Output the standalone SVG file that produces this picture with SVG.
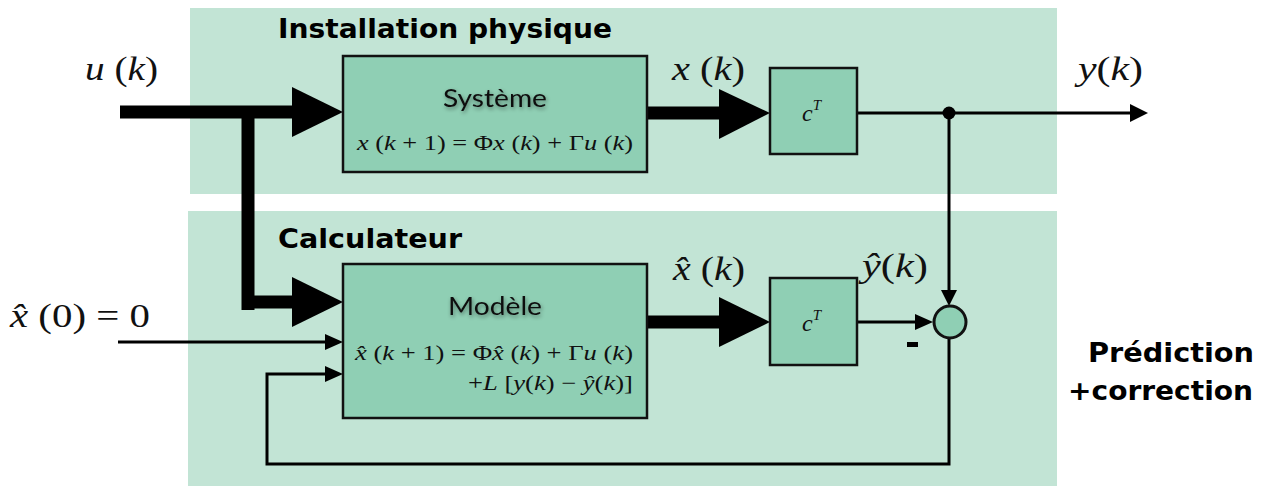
<svg xmlns="http://www.w3.org/2000/svg" width="1268" height="486" viewBox="0 0 1268 486">
  <style>
    .panel { fill: #c2e4d5; }
    .block { fill: #8fcfb4; stroke: #111; stroke-width: 2.5; }
    .thick { stroke: #000; stroke-width: 13; fill: none; }
    .thin { stroke: #000; stroke-width: 3; fill: none; }
    .head { fill: #000; }
    .title { font-family: "DejaVu Sans", "Open Sans", sans-serif; font-weight: bold; font-size: 26px; fill: #000; }
    .name { font-family: Lato, "Open Sans", sans-serif; font-size: 25px; fill: #111; }
    .math { font-family: "Liberation Serif", "DejaVu Serif", serif; fill: #111; }
    .it { font-style: italic; }
  </style>
  <defs>
    <filter id="soft" x="-20%" y="-40%" width="140%" height="180%">
      <feGaussianBlur in="SourceAlpha" stdDeviation="2"/>
      <feOffset dx="1" dy="2" result="b"/>
      <feComponentTransfer><feFuncA type="linear" slope="0.45"/></feComponentTransfer>
      <feMerge><feMergeNode/><feMergeNode in="SourceGraphic"/></feMerge>
    </filter>
  </defs>

  <!-- background areas -->
  <g id="plant-area">
    <rect class="panel" x="190" y="8" width="867" height="186"/>
    <text class="title" x="278" y="38" textLength="334" lengthAdjust="spacingAndGlyphs">Installation physique</text>
  </g>
  <g id="computer-area">
    <rect class="panel" x="188" y="211" width="869" height="275"/>
    <text class="title" x="278" y="248" textLength="184" lengthAdjust="spacingAndGlyphs">Calculateur</text>
  </g>

  <!-- connectors -->
  <g id="connectors">
    <!-- u(k) input and branch to the model -->
    <path class="thick" d="M120 112 H295"/>
    <path class="thick" d="M248 112 V310"/>
    <path class="thick" d="M242 302 H295"/>
    <polygon class="head" points="292,87 343,112 292,137"/>
    <polygon class="head" points="292,277 343,302 292,327"/>
    <!-- state x(k) -->
    <path class="thick" d="M647 113 H722"/>
    <polygon class="head" points="719,89 770,113 719,139"/>
    <!-- estimated state -->
    <path class="thick" d="M647 322 H722"/>
    <polygon class="head" points="719,297 770,322 719,347"/>
    <!-- output y(k) -->
    <path class="thin" d="M857 113 H1132"/>
    <polygon class="head" points="1130,104 1148,113 1130,122"/>
    <circle cx="949" cy="113" r="6.5" fill="#000"/>
    <path class="thin" d="M949 113 V292"/>
    <polygon class="head" points="941,290 949,306 957,290"/>
    <!-- predicted output to summing junction -->
    <path class="thin" d="M857 322 H917"/>
    <polygon class="head" points="915,314 933,322 915,330"/>
    <!-- initial condition -->
    <path class="thin" d="M118 342 H327"/>
    <polygon class="head" points="325,334 343,342 325,350"/>
    <!-- correction feedback -->
    <path class="thin" d="M949 338 V464 H267 V374 H327"/>
    <polygon class="head" points="325,366 343,374 325,382"/>
  </g>

  <!-- plant -->
  <g id="systeme">
    <rect class="block" x="343" y="56" width="304" height="116"/>
    <text class="name" x="443" y="107" textLength="104" lengthAdjust="spacingAndGlyphs" filter="url(#soft)">Système</text>
    <text class="math" x="357" y="150" font-size="21" textLength="276" lengthAdjust="spacingAndGlyphs"><tspan class="it">x</tspan> (<tspan class="it">k</tspan> + 1) = Φ<tspan class="it">x</tspan> (<tspan class="it">k</tspan>) + Γ<tspan class="it">u</tspan> (<tspan class="it">k</tspan>)</text>
  </g>

  <g id="c-plant">
    <rect class="block" x="770" y="68" width="87" height="86"/>
    <text class="math it" x="802" y="121" font-size="24">c<tspan font-size="15" dy="-11">T</tspan></text>
  </g>

  <!-- model -->
  <g id="modele">
    <rect class="block" x="343" y="264" width="304" height="154"/>
    <text class="name" x="448" y="315" textLength="94" lengthAdjust="spacingAndGlyphs" filter="url(#soft)">Modèle</text>
    <text class="math" x="355" y="360" font-size="21" textLength="278" lengthAdjust="spacingAndGlyphs"><tspan class="it">x̂</tspan> (<tspan class="it">k</tspan> + 1) = Φ<tspan class="it">x̂</tspan> (<tspan class="it">k</tspan>) + Γ<tspan class="it">u</tspan> (<tspan class="it">k</tspan>)</text>
    <text class="math" x="468" y="390" font-size="21" textLength="165" lengthAdjust="spacingAndGlyphs">+<tspan class="it">L</tspan> [<tspan class="it">y</tspan>(<tspan class="it">k</tspan>) − <tspan class="it">ŷ</tspan>(<tspan class="it">k</tspan>)]</text>
  </g>

  <g id="c-model">
    <rect class="block" x="770" y="278" width="87" height="87"/>
    <text class="math it" x="802" y="331" font-size="24">c<tspan font-size="15" dy="-11">T</tspan></text>
  </g>

  <g id="sum">
    <circle cx="950" cy="322" r="16" fill="#8fcfb4" stroke="#111" stroke-width="3"/>
    <rect x="907" y="342" width="11" height="5" fill="#000"/>
  </g>

  <!-- signal labels -->
  <g id="labels">
    <text class="math" x="85" y="80" font-size="34" textLength="73" lengthAdjust="spacingAndGlyphs"><tspan class="it">u</tspan> (<tspan class="it">k</tspan>)</text>
    <text class="math" x="672" y="80" font-size="34" textLength="73" lengthAdjust="spacingAndGlyphs"><tspan class="it">x</tspan> (<tspan class="it">k</tspan>)</text>
    <text class="math" x="1078" y="80" font-size="34" textLength="65" lengthAdjust="spacingAndGlyphs"><tspan class="it">y</tspan>(<tspan class="it">k</tspan>)</text>
    <text class="math" x="673" y="280" font-size="34" textLength="72" lengthAdjust="spacingAndGlyphs"><tspan class="it">x̂</tspan> (<tspan class="it">k</tspan>)</text>
    <text class="math" x="862" y="277" font-size="34" textLength="66" lengthAdjust="spacingAndGlyphs"><tspan class="it">ŷ</tspan>(<tspan class="it">k</tspan>)</text>
    <text class="math" x="10" y="327" font-size="34" textLength="140" lengthAdjust="spacingAndGlyphs"><tspan class="it">x̂</tspan> (0) = 0</text>
  </g>

  <g id="note">
    <text class="title" x="1088" y="362" textLength="166" lengthAdjust="spacingAndGlyphs">Prédiction</text>
    <text class="title" x="1068" y="400" textLength="185" lengthAdjust="spacingAndGlyphs">+correction</text>
  </g>
</svg>
